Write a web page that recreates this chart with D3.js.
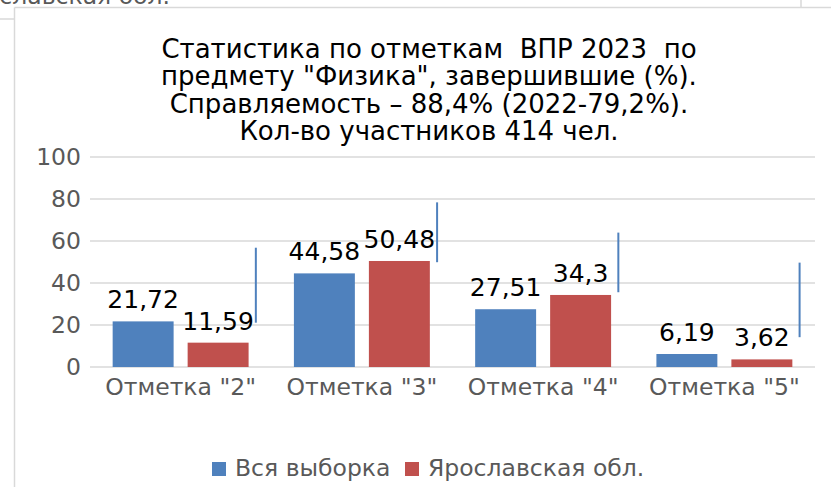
<!DOCTYPE html>
<html>
<head>
<meta charset="utf-8">
<script src="https://cdn.jsdelivr.net/npm/d3@7"></script>
<style>
  html, body { margin: 0; padding: 0; background: #fff; overflow: hidden; }
  svg { display: block; font-family: "DejaVu Sans", sans-serif; }
</style>
</head>
<body>
<div id="chart"></div>
<script>
// Chart data
const categories = ['Отметка "2"', 'Отметка "3"', 'Отметка "4"', 'Отметка "5"'];
const seriesNames = ['Вся выборка', 'Ярославская обл.'];
const allSample = [21.72, 44.58, 27.51, 6.19];
const yaroslavl = [11.59, 50.48, 34.3, 3.62];
const valueLabels = [['21,72', '44,58', '27,51', '6,19'], ['11,59', '50,48', '34,3', '3,62']];
// stray vertical marks right of each group (from / to, in %)
const markTop = [56.8, 78.4, 64.0, 49.7];
const markBottom = [21.1, 49.9, 35.6, 14.2];
const yTicks = [0, 20, 40, 60, 80, 100];
const titleLines = [
    'Статистика по отметкам  ВПР 2023  по',
    'предмету "Физика", завершившие (%).',
    'Справляемость – 88,4% (2022-79,2%).',
    'Кол-во участников 414 чел.'
];

const colors = ['#4f81bd', '#c0504d'];
const grayText = '#595959';
const axisFont = '23.5px';

function drawChart() {
    const W = 831, H = 487;
    const plot = { left: 90, right: 815, top: 157, bottom: 367 };

    const svg = d3.select('#chart').append('svg')
        .attr('width', W)
        .attr('height', H);

    // leftover bits of the sheet around the chart
    svg.append('text')
        .attr('x', 170)
        .attr('y', 4)
        .attr('text-anchor', 'end')
        .attr('fill', grayText)
        .attr('font-size', axisFont)
        .text('Ярославская обл.');

    svg.append('line')
        .attr('x1', 0).attr('x2', 14.5)
        .attr('y1', 19).attr('y2', 19)
        .attr('stroke', '#d9d9d9').attr('stroke-width', 1.5);
    svg.append('line')
        .attr('x1', 801).attr('x2', 801)
        .attr('y1', 0).attr('y2', 7)
        .attr('stroke', '#d9d9d9').attr('stroke-width', 1.5);

    // chart frame
    svg.append('line')
        .attr('x1', 14.5).attr('x2', W)
        .attr('y1', 7.5).attr('y2', 7.5)
        .attr('stroke', '#d9d9d9').attr('stroke-width', 1.5);
    svg.append('line')
        .attr('x1', 14.5).attr('x2', 14.5)
        .attr('y1', 7.5).attr('y2', H)
        .attr('stroke', '#d9d9d9').attr('stroke-width', 1.5);

    // Scales
    const x0 = d3.scaleBand()
        .domain(categories)
        .range([plot.left, plot.right])
        .paddingInner(0.25)
        .paddingOuter(0.125);

    const x1 = d3.scaleBand()
        .domain(seriesNames)
        .range([0, x0.bandwidth()])
        .paddingInner(0.187);

    const y = d3.scaleLinear()
        .domain([0, 100])
        .range([plot.bottom, plot.top]);

    // Gridlines
    svg.append('g')
        .selectAll('line')
        .data(yTicks)
        .enter()
        .append('line')
        .attr('x1', plot.left)
        .attr('x2', plot.right)
        .attr('y1', d => y(d))
        .attr('y2', d => y(d))
        .attr('stroke', '#d9d9d9')
        .attr('stroke-width', 1.5);

    // Y axis
    const yAxis = svg.append('g')
        .attr('transform', `translate(${plot.left},0)`)
        .call(d3.axisLeft(y).tickValues(yTicks).tickSize(0).tickPadding(9));
    yAxis.select('.domain').remove();
    yAxis.selectAll('text')
        .attr('fill', grayText)
        .attr('font-size', axisFont)
        .attr('font-family', '"DejaVu Sans", sans-serif');

    // X axis
    const xAxis = svg.append('g')
        .attr('transform', `translate(0,${plot.bottom})`)
        .call(d3.axisBottom(x0).tickSize(0).tickPadding(11));
    xAxis.select('.domain').remove();
    xAxis.selectAll('text')
        .attr('fill', grayText)
        .attr('font-size', axisFont)
        .attr('font-family', '"DejaVu Sans", sans-serif');

    // Bars
    const series = [allSample, yaroslavl];
    const rows = [];
    series.forEach((vals, s) => {
        vals.forEach((v, i) => rows.push({ cat: categories[i], name: seriesNames[s], s, i, v }));
    });

    svg.append('g')
        .selectAll('rect')
        .data(rows)
        .enter()
        .append('rect')
        .attr('x', d => x0(d.cat) + x1(d.name))
        .attr('y', d => y(d.v))
        .attr('width', x1.bandwidth())
        .attr('height', d => y(0) - y(d.v))
        .attr('fill', d => colors[d.s]);

    // Value labels
    svg.append('g')
        .selectAll('text')
        .data(rows)
        .enter()
        .append('text')
        .attr('x', d => x0(d.cat) + x1(d.name) + x1.bandwidth() / 2)
        .attr('y', d => y(d.v) - 13)
        .attr('text-anchor', 'middle')
        .attr('fill', '#000')
        .attr('font-size', '25px')
        .text(d => valueLabels[d.s][d.i]);

    // Vertical blue marks
    svg.append('g')
        .selectAll('line')
        .data(categories)
        .enter()
        .append('line')
        .attr('x1', d => x0(d) + x0.bandwidth() + x0.step() * 0.04)
        .attr('x2', d => x0(d) + x0.bandwidth() + x0.step() * 0.04)
        .attr('y1', (d, i) => y(markTop[i]))
        .attr('y2', (d, i) => y(markBottom[i]))
        .attr('stroke', '#4f81bd')
        .attr('stroke-width', 2);

    // Title
    svg.append('text')
        .attr('text-anchor', 'middle')
        .attr('font-size', '26px')
        .attr('fill', '#000')
        .style('white-space', 'pre')
        .selectAll('tspan')
        .data(titleLines)
        .enter()
        .append('tspan')
        .attr('x', 429)
        .attr('y', (d, i) => 58 + i * 27.3)
        .text(d => d);

    // Legend
    const legendX = [212, 405];
    const legend = svg.append('g');
    seriesNames.forEach((name, s) => {
        legend.append('rect')
            .attr('x', legendX[s])
            .attr('y', 462)
            .attr('width', 14)
            .attr('height', 14)
            .attr('fill', colors[s]);
        legend.append('text')
            .attr('x', legendX[s] + 23)
            .attr('y', 476)
            .attr('fill', grayText)
            .attr('font-size', axisFont)
            .text(name);
    });
}

drawChart();
</script>
</body>
</html>
